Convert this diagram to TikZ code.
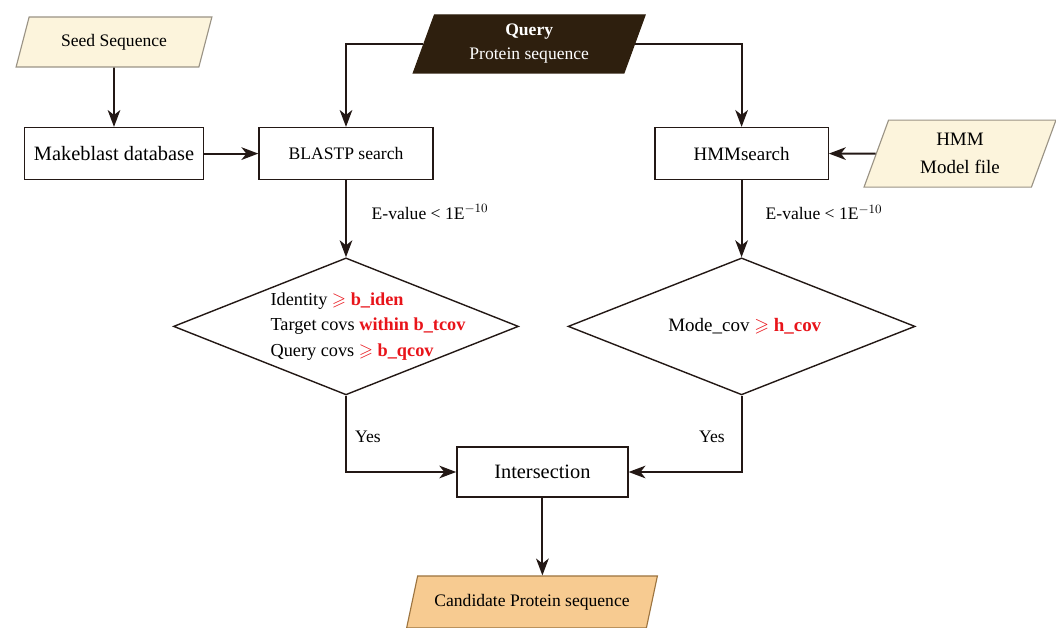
\documentclass[tikz,border=0pt]{standalone}
\usepackage{amsmath,amssymb}
\usepackage{fontspec}
\setmainfont{Liberation Serif}
\usepackage{xcolor}
\usetikzlibrary{arrows.meta,calc,positioning,shapes.geometric}

\definecolor{inkline}{HTML}{231815}
\definecolor{seedfill}{HTML}{FCF4DC}
\definecolor{seedline}{HTML}{9A9385}
\definecolor{queryfill}{HTML}{2E1F0E}
\definecolor{candfill}{HTML}{F7CB91}
\definecolor{candline}{HTML}{9C7440}
\definecolor{cutred}{HTML}{E8141A}

\begin{document}
\begin{tikzpicture}[
  x=1cm,y=1cm,
  font=\fontsize{12.5}{17}\selectfont,
  >={Stealth[length=12pt,width=9pt,inset=3.5pt]},
  process/.style={draw=inkline,line width=1pt,minimum height=1.3cm,align=center,inner sep=2pt},
  inputdata/.style={trapezium,trapezium stretches=true,draw=seedline,fill=seedfill,
    line width=0.8pt,align=center,inner sep=1pt},
  decision/.style={diamond,draw=inkline,line width=1pt,inner sep=0pt},
  flow/.style={->,draw=inkline,line width=1.3pt},
  note/.style={inner sep=1pt,align=center}
]
\useasboundingbox (0,0) rectangle (26.4,15.7);

% inputs
\node[inputdata,trapezium left angle=66,trapezium right angle=114,
      minimum width=4.9cm,minimum height=1.25cm] (seed) at (2.85,14.65) {Seed Sequence};
\node[inputdata,draw=queryfill,fill=queryfill,text=white,trapezium left angle=72,
      trapezium right angle=108,minimum width=5.8cm,minimum height=1.45cm] (query)
      at (13.23,14.6) {\textbf{Query}\\Protein sequence};
\node[inputdata,trapezium left angle=72,trapezium right angle=108,
      minimum width=4.8cm,minimum height=1.675cm,font=\fontsize{13.5}{20}\selectfont] (hmm)
      at (24.0,11.86) {HMM\\Model file};

% searches
\node[process,minimum width=4.475cm,font=\fontsize{14.5}{17}\selectfont] (makedb)
      at (2.85,11.86) {Makeblast database};
\node[process,minimum width=4.35cm] (blastp) at (8.65,11.86) {BLASTP search};
\node[process,minimum width=4.33cm,font=\fontsize{13.5}{17}\selectfont] (hmmsearch)
      at (18.54,11.86) {HMMsearch};

% filters
\node[decision,minimum width=8.625cm,minimum height=3.425cm] (blastcut) at (8.65,7.54) {};
\node[note,align=left,font=\fontsize{13}{18}\selectfont] (blasttext) at (9.2,7.54) {%
  Identity \textcolor{cutred}{\textbf{$\geqslant$ b\_iden}}\\
  Target covs \textcolor{cutred}{\textbf{within b\_tcov}}\\
  Query covs \textcolor{cutred}{\textbf{$\geqslant$ b\_qcov}}};
\node[decision,minimum width=8.675cm,minimum height=3.425cm] (hmmcut) at (18.54,7.54) {};
\node[note,font=\fontsize{13.5}{18}\selectfont] (hmmtext) at (18.62,7.54) {%
  Mode\_cov \textcolor{cutred}{\textbf{$\geqslant$ h\_cov}}};

% merge
\node[process,minimum width=4.275cm,minimum height=1.25cm,font=\fontsize{14.5}{17}\selectfont]
      (inter) at (13.56,3.9) {Intersection};
\node[inputdata,draw=candline,fill=candfill,trapezium left angle=63,trapezium right angle=117,
      minimum width=6.275cm,minimum height=1.3cm] (cand) at (13.3,0.65) {Candidate Protein sequence};

\draw[flow] (seed) -- (seed |- makedb.north);
\draw[flow] (makedb) -- (blastp);
\draw[flow] (query.west) -| (blastp.north);
\draw[flow] (query.east) -| (hmmsearch.north);
\draw[flow] (hmm) -- (hmmsearch);
\draw[flow] (blastp) -- (blastcut.north);
\draw[flow] (hmmsearch) -- (hmmcut.north);
\draw[flow] (blastcut.south) |- (inter.west);
\draw[flow] (hmmcut.south) |- (inter.east);
\draw[flow] (inter) -- (inter |- cand.north);

\node[note] (evleft) at (10.75,10.4) {E-value < 1E$^{-10}$};
\node[note] (evright) at (20.6,10.38) {E-value < 1E$^{-10}$};
\node[note] (yesleft) at (9.2,4.78) {Yes};
\node[note] (yesright) at (17.8,4.78) {Yes};
\end{tikzpicture}
\end{document}
